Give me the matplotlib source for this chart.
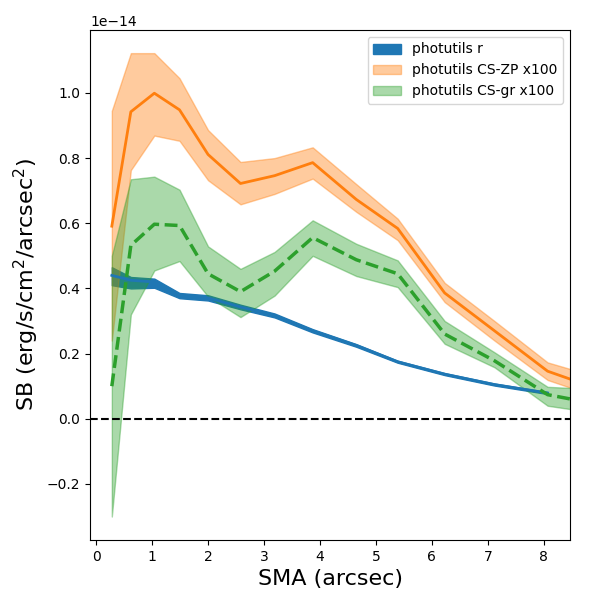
import numpy as np
import matplotlib
matplotlib.use("Agg")
import matplotlib.pyplot as plt

# surface brightness profiles, values in units of 1e-14
sma = [0.28, 0.62, 1.04, 1.49, 2.00, 2.58, 3.19, 3.87, 4.65, 5.39, 6.23, 7.12, 8.07]
sma_ext = sma + [9.05]

r_sb = [0.44, 0.425, 0.42, 0.378, 0.371, 0.343, 0.317, 0.27, 0.225, 0.175, 0.137, 0.105, 0.079]
r_lo = [0.41, 0.40, 0.402, 0.37, 0.363, 0.336, 0.311, 0.265, 0.221, 0.172, 0.134, 0.102, 0.076]
r_hi = [0.465, 0.435, 0.43, 0.386, 0.379, 0.35, 0.323, 0.275, 0.229, 0.178, 0.14, 0.108, 0.082]

zp_sb = [0.591, 0.942, 0.999, 0.948, 0.811, 0.722, 0.746, 0.786, 0.673, 0.584, 0.386, 0.27, 0.146, 0.087]
zp_hi = [0.945, 1.122, 1.122, 1.045, 0.886, 0.788, 0.80, 0.833, 0.72, 0.614, 0.417, 0.30, 0.173, 0.124]
zp_lo = [0.24, 0.763, 0.869, 0.853, 0.732, 0.658, 0.69, 0.737, 0.635, 0.548, 0.358, 0.24, 0.119, 0.062]

gr_sb = [0.10, 0.532, 0.597, 0.593, 0.445, 0.39, 0.453, 0.556, 0.488, 0.445, 0.26, 0.178, 0.074, 0.042]
gr_hi = [0.50, 0.735, 0.743, 0.703, 0.529, 0.46, 0.512, 0.609, 0.537, 0.486, 0.30, 0.204, 0.098, 0.09]
gr_lo = [-0.30, 0.32, 0.455, 0.484, 0.375, 0.312, 0.378, 0.50, 0.438, 0.404, 0.23, 0.158, 0.04, 0.015]

scale = 1e-14

fig = plt.figure(figsize=(6, 6), dpi=100)
ax = fig.add_axes([0.15, 0.10, 0.80, 0.85])

ax.fill_between(sma, np.array(r_lo) * scale, np.array(r_hi) * scale, color="C0", label="photutils r")
ax.plot(sma, np.array(r_sb) * scale, color="C0", lw=2)

ax.fill_between(sma_ext, np.array(zp_lo) * scale, np.array(zp_hi) * scale, color="C1", alpha=0.4,
                label="photutils CS-ZP x100")
ax.plot(sma_ext, np.array(zp_sb) * scale, color="C1", lw=2)

ax.fill_between(sma_ext, np.array(gr_lo) * scale, np.array(gr_hi) * scale, color="C2", alpha=0.4,
                label="photutils CS-gr x100")
ax.plot(sma_ext, np.array(gr_sb) * scale, color="C2", lw=2.5, ls="--")

ax.axhline(0, color="k", ls="--", lw=1.5)

ax.set_xlim(-0.11, 8.47)
ax.set_ylim(-0.372e-14, 1.193e-14)
ax.set_xlabel("SMA (arcsec)", fontsize=16)
ax.set_ylabel("SB (erg/s/cm$^2$/arcsec$^2$)", fontsize=16)
ax.legend(loc="upper right")

fig.savefig("out.png")
